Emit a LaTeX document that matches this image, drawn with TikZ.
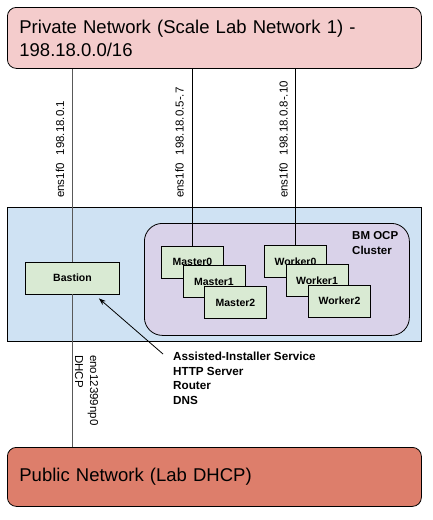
\documentclass[tikz,border=0pt]{standalone}
\usepackage{fontspec}
\setmainfont{Liberation Sans}
\usetikzlibrary{arrows.meta,calc}
\definecolor{privfill}{HTML}{F4CCCC}
\definecolor{pubfill}{HTML}{DD7E6B}
\definecolor{zonefill}{HTML}{CFE2F3}
\definecolor{clusterfill}{HTML}{D9D2E9}
\definecolor{hostfill}{HTML}{D9EAD3}
\begin{document}
\begin{tikzpicture}[x=1pt,y=1pt,
  netbox/.style={draw=black,line width=0.8pt,rounded corners=9pt,anchor=north west,
    inner xsep=12pt,inner ysep=0pt,align=left,
    font=\fontsize{18.5}{23}\selectfont},
  hostbox/.style={draw=black,line width=0.8pt,fill=hostfill,minimum width=62pt,
    minimum height=32pt,inner sep=0pt,font=\fontsize{10.5}{12}\selectfont\bfseries},
  iflabel/.style={inner sep=0pt,font=\fontsize{11.5}{14}\selectfont},
  wire/.style={line width=0.8pt,draw=black},
  bwire/.style={line width=0.8pt,draw=black!65}
]
\useasboundingbox (0,0) rectangle (432,-520);
% zone
\node[draw=black,line width=0.8pt,fill=zonefill,anchor=north west,minimum width=414pt,
  minimum height=134pt,inner sep=0pt] (zone) at (7,-207) {};
\node[draw=black,line width=0.8pt,fill=clusterfill,anchor=north west,rounded corners=18pt,
  minimum width=265pt,minimum height=112pt,inner sep=0pt] (cluster) at (144,-223) {};
\node[anchor=north west,inner sep=0pt,align=left,
  font=\fontsize{11.5}{15}\selectfont\bfseries] (clabel) at (352,-231) {BM OCP\\Cluster};
% networks
\node[netbox,fill=privfill,text width=390pt,minimum height=61pt] (priv) at (7,-7)
  {Private Network (Scale Lab Network 1) -\\198.18.0.0/16};
\node[netbox,fill=pubfill,text width=390pt,minimum height=59pt] (pub) at (7,-447)
  {Public Network (Lab DHCP)};
% hosts
\node[hostbox,minimum width=94pt] (bastion) at (72.5,-278) {Bastion};
\draw[bwire] (priv.south -| bastion.center) -- (bastion.north);
\draw[bwire] (bastion.south) -- (pub.north -| bastion.center);
\node[hostbox] (m0) at (192.5,-262) {Master0};
\node[hostbox] (m1) at (214,-281.5) {Master1};
\node[hostbox] (m2) at (235.5,-302.5) {Master2};
\node[hostbox] (w0) at (295.5,-261.5) {Worker0};
\node[hostbox] (w1) at (317,-280.5) {Worker1};
\node[hostbox] (w2) at (339.5,-301) {Worker2};
\draw[wire] (priv.south -| m0.north) -- (m0.north);
\draw[wire] (priv.south -| w0.north) -- (w0.north);
% interface labels
\node[iflabel,rotate=90,anchor=west] (l1) at (60,-198) {ens1f0\hspace{8pt}198.18.0.1};
\node[iflabel,rotate=90,anchor=west] (l2) at (179.5,-198) {ens1f0\hspace{8pt}198.18.0.5-.7};
\node[iflabel,rotate=90,anchor=west] (l3) at (283.5,-198) {ens1f0\hspace{8pt}198.18.0.8-.10};
\node[iflabel,rotate=-90,anchor=west] (l4) at (93,-355) {eno12399np0};
\node[iflabel,rotate=-90,anchor=west] (l5) at (79,-355) {DHCP};
% services annotation
\node[anchor=north west,inner sep=0pt,align=left,
  font=\fontsize{11.7}{14.6}\selectfont\bfseries] (svc) at (173,-352)
  {Assisted-Installer Service\\HTTP Server\\Router\\DNS};
\coordinate (arrs) at ($(svc.north west)+(-10,-2)$);
\coordinate (arrt) at ($(bastion.south east)+(-21,-4)$);
\draw[line width=0.8pt,-{Stealth[length=7pt,width=5pt]}] (arrs) -- (arrt);
\end{tikzpicture}
\end{document}
